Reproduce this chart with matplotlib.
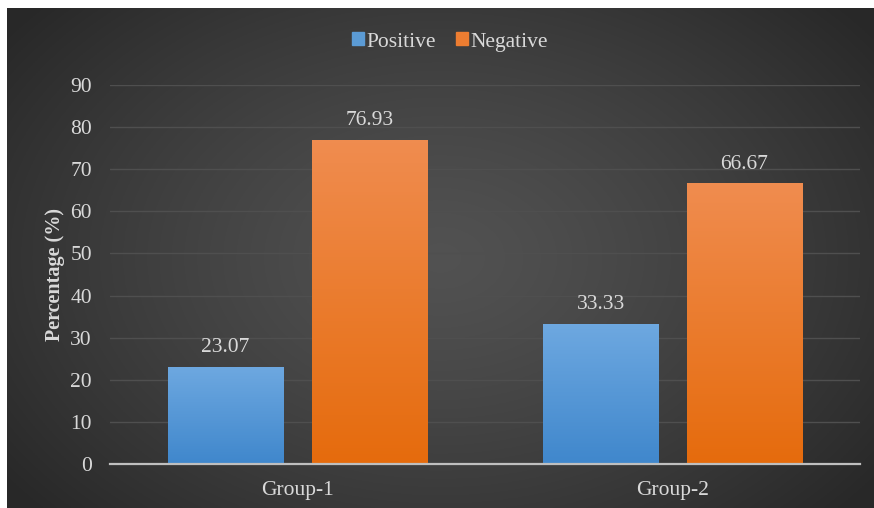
import numpy as np
import matplotlib.pyplot as plt
from matplotlib.patches import Patch

groups = ["Group-1", "Group-2"]
series = ["Positive", "Negative"]
positive = [23.07, 33.33]
negative = [76.93, 66.67]
yticks = [0, 10, 20, 30, 40, 50, 60, 70, 80, 90]

W, H = 874, 508
fig = plt.figure(figsize=(W / 100, H / 100), dpi=100)
fig.patch.set_facecolor("white")
plt.rcParams["font.family"] = ["Liberation Serif", "DejaVu Serif"]
FS = 15.5
TXT = "#d9d9d9"

# dark panel with radial gradient
bg = fig.add_axes([7 / W, 0, (W - 7) / W, (H - 8) / H])
bg.set_axis_off()
yy, xx = np.mgrid[0:1:300j, 0:1:500j]
r = np.sqrt(((xx - 0.5) / 0.62) ** 2 + ((yy - 0.5) / 0.75) ** 2)
r = np.clip(r, 0, 1)
shade = 0.32 - 0.16 * r ** 1.3
bg.imshow(np.dstack([shade] * 3), extent=[0, 1, 0, 1], aspect="auto")
bg.set_xlim(0, 1)
bg.set_ylim(0, 1)

ax = fig.add_axes([110 / W, 1 - 464 / H, 750 / W, (464 - 85) / H])
ax.set_facecolor("none")

x = np.arange(len(groups))
w = 0.307
gap = 0.077
off = (w + gap) / 2
b1 = ax.bar(x - off, positive, w, color="#5b9bd5", zorder=3)
b2 = ax.bar(x + off, negative, w, color="#ed7d31", zorder=3)


def grad_fill(bars, top, bottom):
    top = np.array(top)
    bottom = np.array(bottom)
    t = np.linspace(0, 1, 100)[:, None]
    img = (top * (1 - t) + bottom * t)[:, None, :]
    for b in bars:
        x0, y0 = b.get_x(), b.get_y()
        im = ax.imshow(img, extent=[x0, x0 + b.get_width(), y0, y0 + b.get_height()],
                       aspect="auto", zorder=4, origin="upper")
        im.set_clip_path(b)


grad_fill(b1, [0.43, 0.66, 0.88], [0.25, 0.53, 0.80])
grad_fill(b2, [0.94, 0.55, 0.31], [0.90, 0.42, 0.05])
ax.set_xlim(-0.5, 1.5)
ax.set_ylim(0, 90)

for bars, vals in [(b1, positive), (b2, negative)]:
    for b, v in zip(bars, vals):
        ax.annotate(f"{v:.2f}", (b.get_x() + b.get_width() / 2, v),
                    xytext=(0, 7), textcoords="offset points",
                    ha="center", va="bottom", fontsize=FS, color=TXT)

ax.set_yticks(yticks)
ax.set_xticks(x)
ax.set_xticklabels(groups)
ax.yaxis.grid(True, color="#4f4f4f", linewidth=1.0, zorder=0)
ax.set_axisbelow(True)
for s in ["top", "right", "left"]:
    ax.spines[s].set_visible(False)
ax.spines["bottom"].set_color("#bfbfbf")
ax.spines["bottom"].set_linewidth(1.6)
ax.spines["bottom"].set_zorder(5)
ax.tick_params(axis="y", length=0, pad=13, labelsize=FS, labelcolor=TXT)
ax.tick_params(axis="x", length=0, pad=12, labelsize=FS, labelcolor=TXT)
ax.set_ylabel("Percentage (%)", fontsize=14.5, fontweight="bold", color=TXT, labelpad=4)

handles = [Patch(color="#5b9bd5"), Patch(color="#ed7d31")]
fig.legend(handles, series, loc="center", bbox_to_anchor=(450 / W, 1 - 42 / H),
           ncol=2, frameon=False, fontsize=FS, labelcolor=TXT,
           handlelength=0.55, handleheight=0.55, handletextpad=0.15, columnspacing=0.9)

fig.savefig("out.png", dpi=100, facecolor="white")
